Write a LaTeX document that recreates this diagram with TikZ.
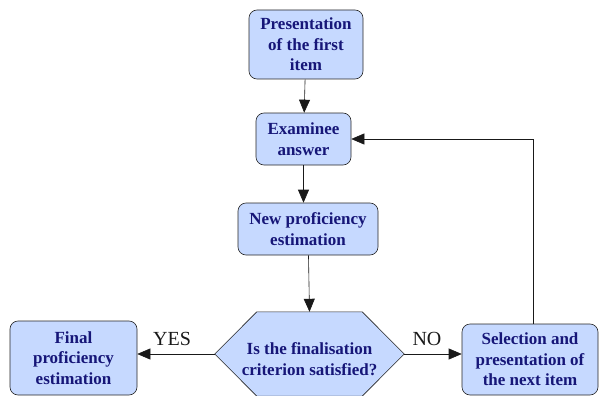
\documentclass[tikz,border=0pt]{standalone}
\usepackage{fontspec}
\setmainfont{Liberation Serif}
\usepackage{tikz}
\usetikzlibrary{arrows.meta}
\definecolor{boxfill}{RGB}{198,217,255}
\definecolor{boxtext}{RGB}{22,22,120}

\begin{document}
\begin{tikzpicture}[x=1pt,y=-1pt,
		stepbox/.style={draw=black!85, semithick, fill=boxfill, rounded corners=8pt, align=center, inner sep=0pt,
			text=boxtext, font=\fontsize{17}{20.5}\selectfont\bfseries},
		decision/.style={align=center, inner sep=0pt, text=boxtext, font=\fontsize{17}{20.5}\selectfont\bfseries},
		hexagon/.style={draw=black!85, semithick, fill=boxfill},
		flow/.style={semithick, black!90, -{Triangle[length=13pt,width=11pt]}},
		answer/.style={font=\fontsize{20}{24}\selectfont}]
			\useasboundingbox (0,0) rectangle (600,396);

			\node[stepbox, minimum width=114pt, minimum height=69pt] (first) at (306,44.5) {Presentation\\of the first\\item};
			\node[stepbox, minimum width=95pt, minimum height=52pt] (answer) at (303.5,139) {Examinee\\answer};
			\node[stepbox, minimum width=140pt, minimum height=52pt] (estimate) at (308,229) {New proficiency\\estimation};
			\node[minimum width=189pt, minimum height=84pt, inner sep=0pt] (criterion) at (309.5,354) {};
			\draw[hexagon] (criterion.west) -- ([xshift=42pt]criterion.north west) -- ([xshift=-42pt]criterion.north east)
				-- (criterion.east) -- ([xshift=-42pt]criterion.south east) -- ([xshift=42pt]criterion.south west) -- cycle;
			\node[decision] (question) at ([yshift=-5pt]criterion.center) {Is the finalisation\\criterion satisfied?};
			\node[stepbox, minimum width=127pt, minimum height=74pt] (final) at (73.5,358) {Final\\proficiency\\estimation};
			\node[stepbox, minimum width=136pt, minimum height=71pt] (next) at (530,359.5) {Selection and\\presentation of\\the next item};

			\draw[flow] (first) -- (answer);
			\draw[flow] (answer) -- (answer |- estimate.north);
			\draw[flow] (estimate) -- (criterion.north);
			\draw[flow] (criterion.west) --node[answer, above=5pt, xshift=-4pt] (yes) {YES} (final.east |- criterion.west);
			\draw[flow] (criterion.east) --node[answer, above=5pt, xshift=-6pt] (no) {NO} (next.west |- criterion.east);
			\draw[flow] (next.north -| 533,0) |- (answer.east);
		\end{tikzpicture}
\end{document}
